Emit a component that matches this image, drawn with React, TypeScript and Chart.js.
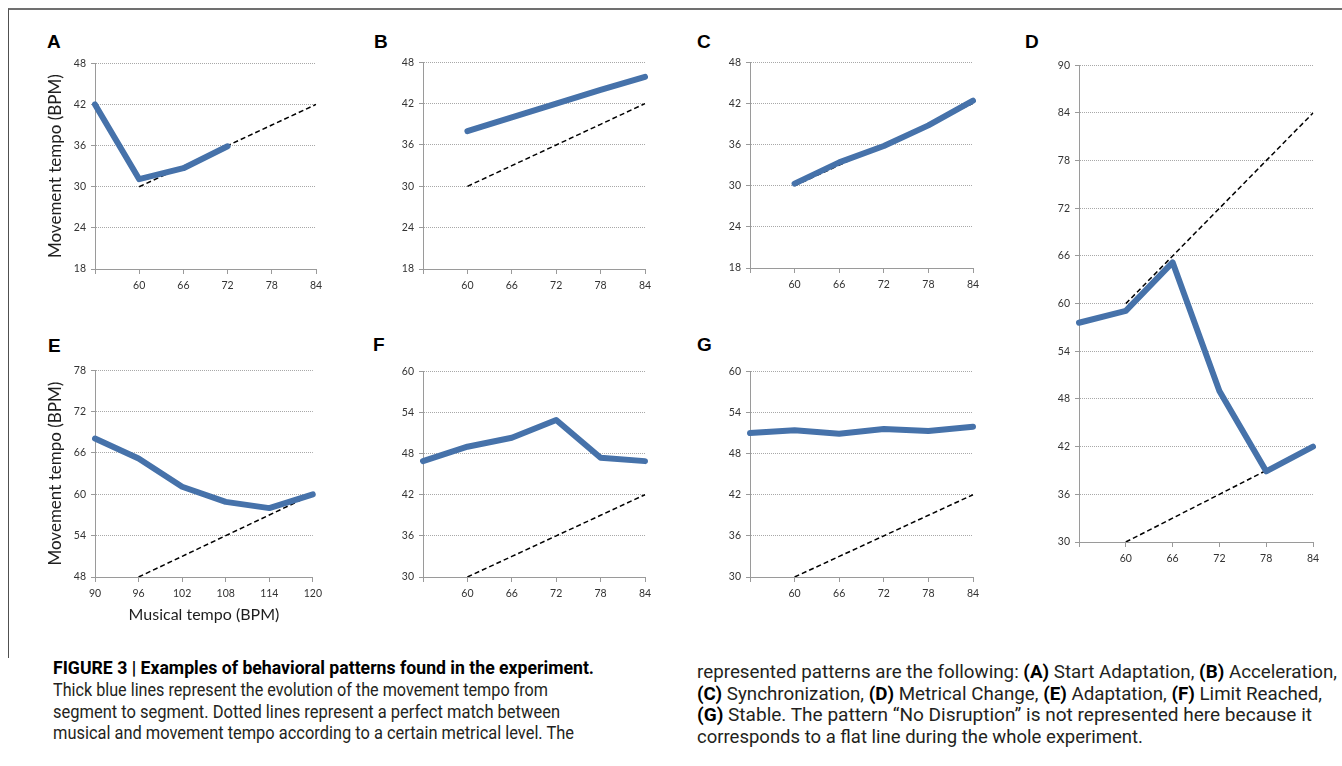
import React, { useEffect, useLayoutEffect, useRef } from "react";
import { Chart, registerables } from "chart.js";

Chart.register(...registerables);

// ---------- data ----------
const CATS = ["", "60", "66", "72", "78", "84"];
const CATS_E = ["90", "96", "102", "108", "114", "120"];

const A_MOVE = [42, 31.1, 32.7, 35.9, null, null];
const A_MATCH = [null, 30, 33, 36, 39, 42];

const B_MOVE = [null, 38, 40, 42, 44, 45.9];
const B_MATCH = [null, 30, 33, 36, 39, 42];

const C_MOVE = [null, 30.3, 33.4, 35.8, 38.8, 42.4];
const C_MATCH = [null, 30, 33, 36, 39, 42];

const D_MOVE = [57.6, 59.1, 65.2, 49.0, 38.9, 42];
const D_MATCH_UPPER = [null, 60, 66, 72, 78, 84];
const D_MATCH_LOWER = [null, 30, 33, 36, 39, 42];

const E_MOVE = [68.1, 65.2, 61.1, 58.9, 58.0, 60];
const E_MATCH = [null, 48, 51, 54, 57, 60];

const F_MOVE = [46.9, 49.0, 50.3, 52.9, 47.4, 46.9];
const F_MATCH = [null, 30, 33, 36, 39, 42];

const G_MOVE = [51.0, 51.4, 50.9, 51.6, 51.3, 51.9];
const G_MATCH = [null, 30, 33, 36, 39, 42];

const Y_TITLE = "Movement tempo (BPM)";
const X_TITLE = "Musical tempo (BPM)";

// ---------- styling ----------
const BLUE = "#4672AA";
const AXIS = "#9a9a9a";
const GRID = "#a8a8a8";
const TICK_COLOR = "#333333";
const CHART_FONT = "Lato, 'Open Sans', sans-serif";

type PanelCfg = {
  letter: string;
  cats: string[];
  move: (number | null)[];
  matches: (number | null)[][];
  yMin: number;
  yMax: number;
  area: [number, number, number, number];
  letterPos: [number, number];
  yTitle?: string;
  xTitle?: string;
};

const PANELS: PanelCfg[] = [
  { letter: "A", cats: CATS, move: A_MOVE, matches: [A_MATCH], yMin: 18, yMax: 48, area: [95, 60, 316, 269], letterPos: [47, 35], yTitle: Y_TITLE },
  { letter: "B", cats: CATS, move: B_MOVE, matches: [B_MATCH], yMin: 18, yMax: 48, area: [423, 59, 645, 269], letterPos: [374, 35] },
  { letter: "C", cats: CATS, move: C_MOVE, matches: [C_MATCH], yMin: 18, yMax: 48, area: [750, 59, 973, 268], letterPos: [697, 35] },
  { letter: "D", cats: CATS, move: D_MOVE, matches: [D_MATCH_UPPER, D_MATCH_LOWER], yMin: 30, yMax: 90, area: [1079, 62, 1313, 542], letterPos: [1025, 35] },
  { letter: "E", cats: CATS_E, move: E_MOVE, matches: [E_MATCH], yMin: 48, yMax: 78, area: [95, 367, 315, 577], letterPos: [48, 339], yTitle: Y_TITLE, xTitle: X_TITLE },
  { letter: "F", cats: CATS, move: F_MOVE, matches: [F_MATCH], yMin: 30, yMax: 60, area: [423, 368, 645, 577], letterPos: [373, 338] },
  { letter: "G", cats: CATS, move: G_MOVE, matches: [G_MATCH], yMin: 30, yMax: 60, area: [750, 368, 973, 577], letterPos: [697, 338] },
];

function Panel({ cfg }: { cfg: PanelCfg }) {
  const ref = useRef<HTMLCanvasElement | null>(null);
  const [x0, y0, x1, y1] = cfg.area;
  const yW = cfg.yTitle ? x0 - 45 : 34;
  const xH = cfg.xTitle ? 47 : 30;
  const padT = 8;
  const padR = 12;
  const W = x1 - x0 + yW + padR;
  const H = y1 - y0 + padT + xH;

  useEffect(() => {
    if (!ref.current) return;
    const datasets: any[] = [
      {
        label: "Movement tempo",
        data: cfg.move,
        borderColor: BLUE,
        backgroundColor: BLUE,
        borderWidth: 6,
        borderJoinStyle: "round",
        borderCapStyle: "round",
        pointRadius: 0,
        tension: 0,
        spanGaps: false,
        fill: false,
      },
      ...cfg.matches.map((m, i) => ({
        label: "Perfect match " + (i + 1),
        data: m,
        borderColor: "#000",
        backgroundColor: "#000",
        borderWidth: 1.5,
        borderDash: [5, 3],
        pointRadius: 0,
        tension: 0,
        fill: false,
      })),
    ];
    const chart = new Chart(ref.current, {
      type: "line",
      data: { labels: cfg.cats, datasets },
      options: {
        animation: false,
        responsive: false,
        devicePixelRatio: 1,
        layout: { padding: { top: padT, right: padR, left: 0, bottom: 0 } },
        plugins: { legend: { display: false }, tooltip: { enabled: false }, title: { display: false } },
        scales: {
          x: {
            type: "category",
            offset: false,
            afterFit: (s: any) => {
              s.height = xH;
            },
            grid: {
              offset: false,
              drawOnChartArea: false,
              drawTicks: true,
              tickLength: 5,
              tickColor: AXIS,
              color: AXIS,
            },
            border: { display: true, color: AXIS, width: 1 },
            ticks: {
              autoSkip: false,
              maxRotation: 0,
              minRotation: 0,
              padding: 5,
              color: TICK_COLOR,
              font: { family: CHART_FONT, size: 10.5 },
            },
            title: cfg.xTitle
              ? {
                  display: true,
                  text: cfg.xTitle,
                  color: "#1e1e1e",
                  font: { family: CHART_FONT, size: 16 },
                  padding: { top: 2, bottom: 0 },
                }
              : { display: false },
          },
          y: {
            min: cfg.yMin,
            max: cfg.yMax,
            afterFit: (s: any) => {
              s.width = yW;
            },
            grid: {
              color: (c: any) => (c.tick && c.tick.value === cfg.yMin ? "rgba(0,0,0,0)" : GRID),
              lineWidth: 1,
              drawTicks: true,
              tickLength: 4,
              tickColor: AXIS,
            },
            border: { display: true, color: AXIS, width: 1, dash: [1, 1] },
            ticks: {
              stepSize: 6,
              padding: 5,
              color: TICK_COLOR,
              font: { family: CHART_FONT, size: 10.5 },
            },
            title: cfg.yTitle
              ? {
                  display: true,
                  text: cfg.yTitle,
                  color: "#1e1e1e",
                  font: { family: CHART_FONT, size: 17 },
                  padding: { top: 0, bottom: 0 },
                }
              : { display: false },
          },
        },
      } as any,
    });
    return () => chart.destroy();
  }, []);

  return (
    <>
      <canvas
        ref={ref}
        width={W}
        height={H}
        style={{ position: "absolute", left: x0 - yW, top: y0 - padT, width: W, height: H, display: "block" }}
      />
      <div
        style={{
          position: "absolute",
          left: cfg.letterPos[0],
          top: cfg.letterPos[1] - 3,
          fontFamily: "'Liberation Sans', Arial, sans-serif",
          fontWeight: 700,
          fontSize: 19,
          lineHeight: "19px",
          color: "#000",
        }}
      >
        {cfg.letter}
      </div>
    </>
  );
}

function FitLine({
  left,
  top,
  width,
  size,
  bold,
  children,
}: {
  left: number;
  top: number;
  width: number;
  size: number;
  bold?: boolean;
  children: React.ReactNode;
}) {
  const ref = useRef<HTMLSpanElement | null>(null);
  useLayoutEffect(() => {
    const el = ref.current;
    if (!el) return;
    el.style.transform = "none";
    const w = el.getBoundingClientRect().width;
    if (w > 0) el.style.transform = `scaleX(${width / w})`;
  });
  return (
    <div style={{ position: "absolute", left, top, whiteSpace: "nowrap" }}>
      <span
        ref={ref}
        style={{
          display: "inline-block",
          transformOrigin: "0 0",
          fontFamily: "'Liberation Sans Narrow', Roboto, 'Liberation Sans', sans-serif",
          fontSize: size,
          lineHeight: "21px",
          fontWeight: bold ? 700 : 400,
          color: bold ? "#000" : "#231f20",
        }}
      >
        {children}
      </span>
    </div>
  );
}

const B = ({ children }: { children: React.ReactNode }) => <b style={{ color: "#000" }}>{children}</b>;

const CAP = 18;

export default function App() {
  return (
    <div
      style={{
        position: "absolute",
        left: 0,
        top: 0,
        width: 1342,
        height: 766,
        overflow: "hidden",
        background: "#fff",
      }}
    >
      <div
        style={{
          position: "absolute",
          left: 8,
          top: 8,
          width: 1400,
          height: 648,
          borderTop: "2px solid #707070",
          borderLeft: "1.5px solid #505050",
        }}
      />
      {PANELS.map((p) => (
        <Panel key={p.letter} cfg={p} />
      ))}

      <FitLine left={53} top={657} width={541} size={CAP} bold>
        FIGURE 3 | Examples of behavioral patterns found in the experiment.
      </FitLine>
      <FitLine left={53} top={679} width={495} size={CAP}>
        Thick blue lines represent the evolution of the movement tempo from
      </FitLine>
      <FitLine left={53} top={701} width={507} size={CAP}>
        segment to segment. Dotted lines represent a perfect match between
      </FitLine>
      <FitLine left={53} top={722} width={521} size={CAP}>
        musical and movement tempo according to a certain metrical level. The
      </FitLine>

      <FitLine left={697} top={661} width={640} size={CAP}>
        represented patterns are the following: <B>(A)</B> Start Adaptation, <B>(B)</B> Acceleration,
      </FitLine>
      <FitLine left={697} top={683} width={625} size={CAP}>
        <B>(C)</B> Synchronization, <B>(D)</B> Metrical Change, <B>(E)</B> Adaptation, <B>(F)</B> Limit Reached,
      </FitLine>
      <FitLine left={697} top={704} width={615} size={CAP}>
        <B>(G)</B> Stable. The pattern “No Disruption” is not represented here because it
      </FitLine>
      <FitLine left={697} top={726} width={446} size={CAP}>
        corresponds to a flat line during the whole experiment.
      </FitLine>
    </div>
  );
}
